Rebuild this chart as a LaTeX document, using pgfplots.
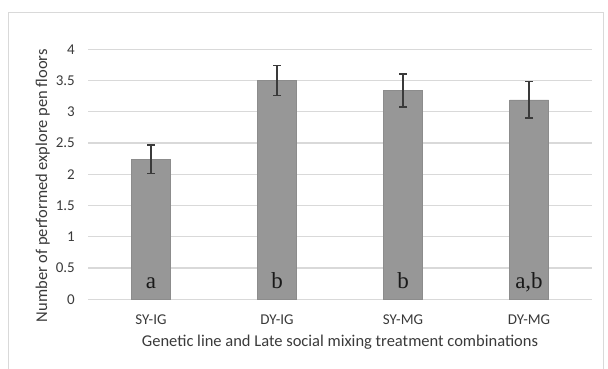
\documentclass[border=0pt]{standalone}
\usepackage{pgfplots}
\pgfplotsset{compat=1.18}
\usepackage{fontspec}
\setmainfont{Carlito}
\newfontfamily\serifletters{Liberation Serif}
\definecolor{bargray}{HTML}{979797}
\definecolor{baredge}{HTML}{8C8C8C}
\definecolor{gridgray}{HTML}{D9D9D9}
\definecolor{framegray}{HTML}{D9D9D9}
\definecolor{errgray}{HTML}{3A3A3A}
\definecolor{txt}{HTML}{3A3A3A}
\begin{document}
\begin{tikzpicture}
\useasboundingbox (0,0) rectangle (608pt,369pt);
\draw[framegray, line width=1pt] (8.3pt,0) -- (8.3pt,356.7pt) -- (603.5pt,356.7pt) -- (603.5pt,0);
\begin{axis}[
  at={(88pt,69.7pt)}, anchor=south west,
  width=504pt, height=250pt, scale only axis,
  xmin=-0.5, xmax=3.5, ymin=0, ymax=4,
  axis line style={draw=none},
  ytick={0,0.5,...,4},
  yticklabels={0,0.5,1,1.5,2,2.5,3,3.5,4},
  ymajorgrids, grid style={gridgray, line width=1.4pt},
  major tick length=0pt,
  xtick={0,1,2,3},
  xticklabels={SY-IG,DY-IG,SY-MG,DY-MG},
  tick label style={font=\fontsize{15}{16}\selectfont, text=txt},
  /pgf/number format/assume math mode=true,
  yticklabel style={anchor=east, inner sep=0pt, xshift=-13pt},
  xticklabel style={anchor=base, inner sep=0pt, yshift=-25pt},
  xlabel={Genetic line and Late social mixing treatment combinations},
  ylabel={Number of performed explore pen floors},
  label style={font=\fontsize{16.5}{18}\selectfont, text=txt},
  xlabel style={at={(axis description cs:0.5,-0.187)}, anchor=base},
  ylabel style={at={(axis description cs:-0.0813,0.455)}, anchor=base, rotate=0},
  clip=false,
]
\addplot[ybar, bar width=39pt, fill=bargray, draw=baredge,
  error bars/.cd, y dir=both, y explicit,
  error bar style={errgray, line width=1.3pt},
  error mark options={errgray, line width=1.3pt, mark size=4pt, rotate=90}]
  coordinates {
    (0,2.24) +- (0,0.23)
    (1,3.50) +- (0,0.24)
    (2,3.34) +- (0,0.265)
    (3,3.19) +- (0,0.29)
  };
\node[anchor=base, font=\serifletters\fontsize{23}{24}\selectfont, text=black!90] at (axis cs:0,0.18) {a};
\node[anchor=base, font=\serifletters\fontsize{23}{24}\selectfont, text=black!90] at (axis cs:1,0.18) {b};
\node[anchor=base, font=\serifletters\fontsize{23}{24}\selectfont, text=black!90] at (axis cs:2,0.18) {b};
\node[anchor=base, font=\serifletters\fontsize{23}{24}\selectfont, text=black!90] at (axis cs:3,0.18) {a,b};
\end{axis}
\end{tikzpicture}
\end{document}
